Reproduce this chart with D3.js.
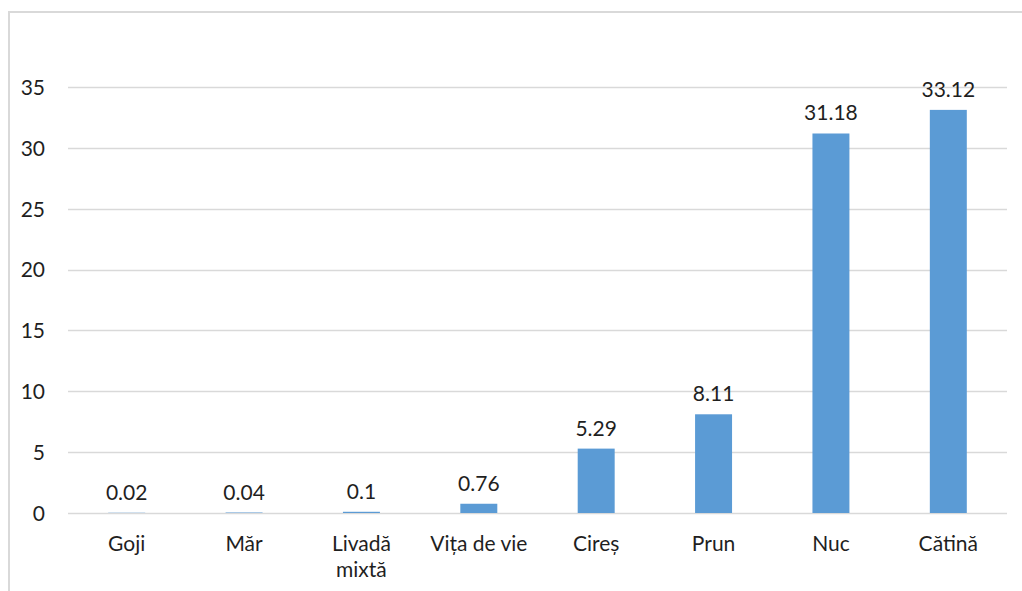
<!DOCTYPE html>
<html>
<head>
<meta charset="utf-8">
<script src="https://cdn.jsdelivr.net/npm/d3@7"></script>
<style>
  html, body { margin: 0; padding: 0; background: #fff; }
  svg { display: block; }
  text { font-family: Lato, "Open Sans", sans-serif; fill: #1f1f1f; }
</style>
</head>
<body>
<svg id="chart" width="1022" height="591"></svg>
<script>
const categories = [["Goji"], ["Măr"], ["Livadă", "mixtă"], ["Vița de vie"], ["Cireș"], ["Prun"], ["Nuc"], ["Cătină"]];
const values = [0.02, 0.04, 0.1, 0.76, 5.29, 8.11, 31.18, 33.12];
const valueLabels = ["0.02", "0.04", "0.1", "0.76", "5.29", "8.11", "31.18", "33.12"];
const yTicks = [0, 5, 10, 15, 20, 25, 30, 35];

const svg = d3.select("#chart");
const W = 1022, H = 591;
const plot = { left: 68, right: 1007, top: 87, bottom: 513 };
const FS = 21;

// frame
svg.append("rect")
  .attr("x", 9).attr("y", 12)
  .attr("width", W + 20).attr("height", H + 20)
  .attr("fill", "none").attr("stroke", "#d9d9d9").attr("stroke-width", 2);

const keys = categories.map((c, i) => i);
const x = d3.scaleBand().domain(keys).range([plot.left, plot.right]).paddingInner(0.685).paddingOuter(0.3425);
const y = d3.scaleLinear().domain([0, 35]).range([plot.bottom, plot.top]);

// gridlines
svg.append("g").selectAll("line").data(yTicks).join("line")
  .attr("x1", plot.left).attr("x2", plot.right)
  .attr("y1", d => Math.round(y(d)) + 0.5).attr("y2", d => Math.round(y(d)) + 0.5)
  .attr("stroke", "#d9d9d9").attr("stroke-width", 1.3);

// y axis labels
const yAxis = d3.axisLeft(y).tickValues(yTicks).tickSize(0).tickPadding(0);
const gy = svg.append("g").attr("transform", `translate(${45},0)`).call(yAxis);
gy.select(".domain").remove();
gy.selectAll("text").attr("font-family", "Lato").attr("font-size", FS).attr("fill", "#1f1f1f").attr("dy", "0.35em");

// bars
svg.append("g").selectAll("rect").data(values).join("rect")
  .attr("x", (d, i) => x(i))
  .attr("width", x.bandwidth())
  .attr("y", d => y(d))
  .attr("height", d => y(0) - y(d))
  .attr("fill", "#5b9bd5");

// value labels
svg.append("g").selectAll("text").data(values).join("text")
  .attr("x", (d, i) => x(i) + x.bandwidth() / 2)
  .attr("y", d => y(d) - 13)
  .attr("text-anchor", "middle")
  .attr("font-size", FS)
  .text((d, i) => valueLabels[i]);

// category labels
const xAxis = d3.axisBottom(x).tickSize(0).tickFormat(() => "");
const gx = svg.append("g").attr("transform", `translate(0,${plot.bottom})`).call(xAxis);
gx.select(".domain").remove();
gx.selectAll(".tick").each(function(d) {
  const t = d3.select(this).append("text")
    .attr("text-anchor", "middle")
    .attr("y", 38)
    .attr("font-size", FS)
    .attr("fill", "#1f1f1f");
  categories[d].forEach((line, j) => {
    t.append("tspan").attr("x", 0).attr("dy", j === 0 ? 0 : 26).text(line);
  });
});
</script>
</body>
</html>
